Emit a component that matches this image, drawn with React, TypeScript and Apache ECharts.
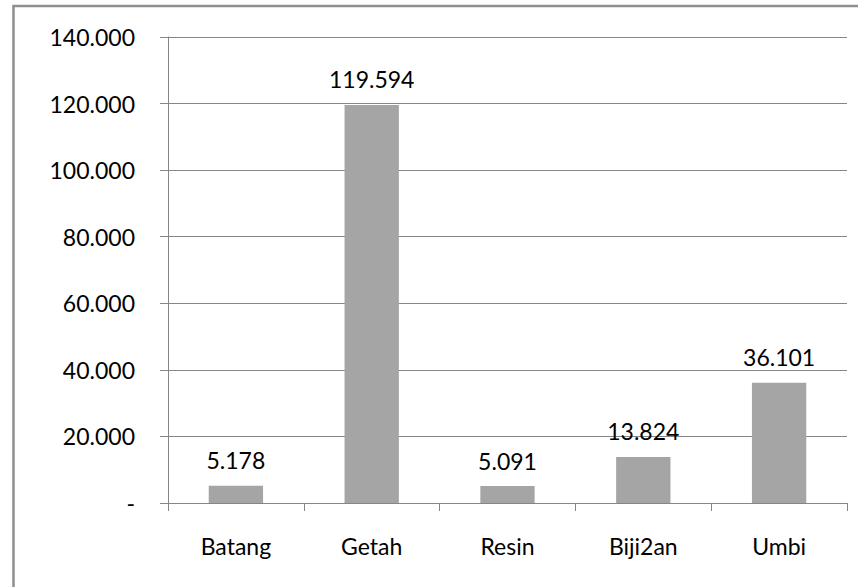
import React, { useEffect, useRef } from "react";
import * as echarts from "echarts";

const categories = ["Batang", "Getah", "Resin", "Biji2an", "Umbi"];
const values = [5178, 119594, 5091, 13824, 36101];
const yMin = 0;
const yMax = 140000;
const yInterval = 20000;

const fmt = (v: number) => {
  if (v === 0) return "-";
  return Math.round(v).toString().replace(/\B(?=(\d{3})+(?!\d))/g, ".");
};

const FONT = "Lato, 'Open Sans', sans-serif";
const GRID_COLOR = "#868686";

export default function App() {
  const ref = useRef<HTMLDivElement>(null);
  useEffect(() => {
    if (!ref.current) return;
    const chart = echarts.init(ref.current, null, { renderer: "svg" });
    chart.setOption({
      animation: false,
      backgroundColor: "#ffffff",
      grid: { left: 168, right: 11, top: 37, bottom: 84, containLabel: false },
      graphic: [
        {
          type: "rect",
          shape: { x: 13.5, y: 6, width: 1000, height: 1000 },
          style: { fill: "none", stroke: "#8f8f8f", lineWidth: 2.5 },
          silent: true,
        },
      ],
      xAxis: {
        type: "category",
        data: categories,
        boundaryGap: true,
        axisLine: { show: true, lineStyle: { color: GRID_COLOR, width: 1 } },
        axisTick: { show: true, interval: 0, length: 8, lineStyle: { color: GRID_COLOR } },
        axisLabel: {
          interval: 0,
          margin: 31,
          color: "#000000",
          fontFamily: FONT,
          fontSize: 23,
        },
        splitLine: { show: false },
      },
      yAxis: {
        type: "value",
        min: yMin,
        max: yMax,
        interval: yInterval,
        axisLine: { show: true, lineStyle: { color: GRID_COLOR, width: 1 } },
        axisTick: { show: true, length: 8, lineStyle: { color: GRID_COLOR } },
        axisLabel: {
          margin: 33,
          color: "#000000",
          fontFamily: FONT,
          fontSize: 23,
          formatter: (v: number) => fmt(v),
        },
        splitLine: { show: true, lineStyle: { color: GRID_COLOR, width: 1 } },
      },
      series: [
        {
          type: "bar",
          data: values,
          barWidth: "40%",
          itemStyle: { color: "#a5a5a5" },
          label: {
            show: true,
            position: "top",
            distance: 14,
            color: "#000000",
            fontFamily: FONT,
            fontSize: 23,
            formatter: (p: any) => fmt(p.value),
          },
        },
      ],
    });
    return () => chart.dispose();
  }, []);
  return (
    <div
      ref={ref}
      style={{ position: "fixed", left: 0, top: 0, width: 858, height: 587 }}
    />
  );
}
